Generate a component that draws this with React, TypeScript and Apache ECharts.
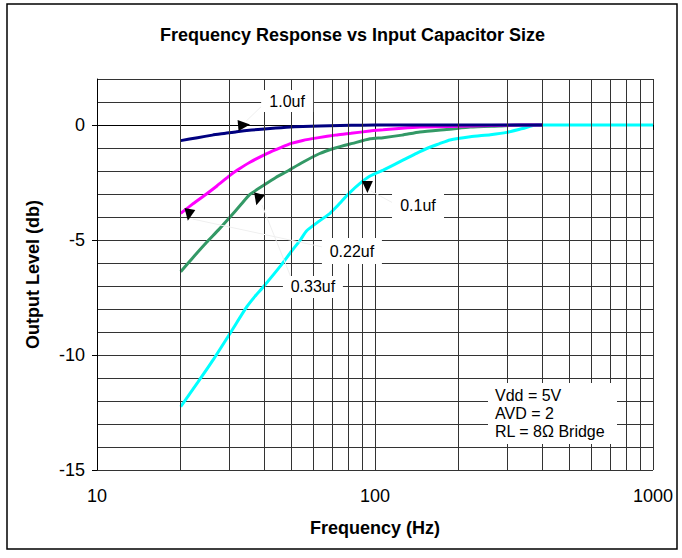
import React, { useEffect, useRef } from 'react';
import * as echarts from 'echarts';

const FONT = '"Liberation Sans", Arial, sans-serif';

const TITLE = 'Frequency Response vs Input Capacitor Size';
const X_NAME = 'Frequency (Hz)';
const Y_NAME = 'Output Level (db)';

const Y_LABELS = [-15, -10, -5, 0];
const FREQ_MINOR = [20, 30, 40, 50, 60, 70, 80, 90, 200, 300, 400, 500, 600, 700, 800, 900];

// [frequency Hz, output dB]
const NAVY_CURVE: [number, number][] = [
  [20, -0.68], [23, -0.55], [26, -0.44], [29, -0.36], [31.8, -0.29], [36, -0.22], [40, -0.17],
  [44, -0.13], [48, -0.1], [55, -0.06], [63, -0.04], [75, -0.02], [90, -0.01], [110, 0],
  [150, 0], [200, 0], [300, 0], [400, 0],
];
const MAGENTA_CURVE: [number, number][] = [
  [20, -3.84], [22, -3.45], [24, -3.12], [27, -2.65], [30, -2.2], [32, -1.96], [35.5, -1.62],
  [41, -1.23], [46, -0.97], [50, -0.8], [55, -0.67], [62, -0.56], [73, -0.43], [82, -0.36],
  [96, -0.26], [107, -0.21], [125, -0.14], [145, -0.09], [186, -0.06], [260, -0.02], [335, 0], [400, 0],
];
const GREEN_CURVE: [number, number][] = [
  [20, -6.38], [22, -5.8], [24.8, -5.1], [27.3, -4.57], [30, -4.02], [33, -3.45], [35.5, -3.02],
  [40, -2.6], [44, -2.28], [48, -2.03], [55, -1.62], [63, -1.25], [72, -1.0], [83, -0.8],
  [96, -0.6], [107, -0.55], [125, -0.44], [145, -0.3], [186, -0.18], [220, -0.09], [280, -0.04],
  [335, 0], [400, 0],
];
const CYAN_CURVE: [number, number][] = [
  [20, -12.25], [23, -11.2], [26.2, -10.2], [30.1, -9.06], [34.6, -7.9], [37, -7.45], [39.7, -7.03],
  [45.5, -6.16], [50, -5.5], [54, -4.98], [56.8, -4.6], [63, -4.18], [68.9, -3.84], [72.8, -3.55],
  [76, -3.3], [81, -2.95], [88.3, -2.54], [96, -2.22], [107, -1.96], [126.5, -1.52], [141, -1.23],
  [155, -1.0], [170, -0.82], [186, -0.65], [220, -0.51], [260, -0.42], [298, -0.32], [340, -0.15],
  [382, 0], [500, 0], [1000, 0],
];

// callout labels: [text, frequency, dB]
const CALLOUT_TEXT = ['1.0uf', '0.1uf', '0.22uf', '0.33uf'];
const CALLOUT_POS: [number, number][] = [[48.3, 1.04], [142.8, -3.52], [82.6, -5.48], [59.8, -7.04]];
const CALLOUT_BOX: [number, number][] = [[52, 22], [52, 26], [60, 26], [60, 22]];

// arrow heads: [frequency, dB], rotation
const ARROW_POS: [number, number][] = [[33.8, 0.0], [21.4, -3.91], [37.9, -3.24], [93.9, -2.7]];
const ARROW_ROT = [-85, 170, 165, 180];

// faint leader lines
const LEADERS: [[number, number], [number, number]][] = [
  [[39.2, 0.83], [34.4, 0.17]],
  [[22.1, -4.09], [64.5, -5.3]],
  [[39.2, -3.48], [50.3, -6.74]],
  [[96.7, -2.87], [116.1, -3.39]],
];

const NOTE = 'Vdd = 5V\nAVD = 2\nRL = 8Ω Bridge';

function curve(name: string, data: [number, number][], color: string) {
  return {
    name,
    type: 'line',
    data,
    yAxisIndex: 0,
    showSymbol: false,
    symbol: 'none',
    smooth: 0.2,
    lineStyle: { color, width: 3 },
    itemStyle: { color },
    z: 3,
  };
}

export default function App() {
  const ref = useRef<HTMLDivElement>(null);
  useEffect(() => {
    const chart = echarts.init(ref.current!, null, { renderer: 'svg' });
    const option: any = {
      animation: false,
      backgroundColor: '#fff',
      title: {
        text: TITLE,
        left: 155,
        top: 21,
        textStyle: { fontFamily: FONT, fontSize: 18, fontWeight: 'bold', color: '#000' },
      },
      grid: { left: 97, right: 29, top: 79, bottom: 88, containLabel: false, outerBoundsMode: 'none' },
      xAxis: {
        type: 'log',
        logBase: 10,
        min: 10,
        max: 1000,
        name: X_NAME,
        nameLocation: 'middle',
        nameGap: 49,
        nameTextStyle: { fontFamily: FONT, fontSize: 18, fontWeight: 'bold', color: '#000' },
        axisLine: { show: true, lineStyle: { color: '#000', width: 1 } },
        axisTick: { show: true, length: 5, lineStyle: { color: '#000' } },
        axisLabel: {
          fontFamily: FONT,
          fontSize: 18,
          color: '#000',
          margin: 17,
          formatter: (v: number) => String(Math.round(v)),
        },
        splitLine: { show: true, lineStyle: { color: '#333', width: 1 } },
        minorTick: { show: false },
        minorSplitLine: { show: false },
      },
      yAxis: [
        {
          type: 'value',
          min: -15,
          max: 2,
          interval: 1,
          name: Y_NAME,
          nameLocation: 'middle',
          nameGap: 55,
          nameRotate: 90,
          nameTextStyle: { fontFamily: FONT, fontSize: 18, fontWeight: 'bold', color: '#000' },
          axisLine: { show: true, lineStyle: { color: '#000', width: 1 } },
          axisTick: { show: true, length: 5, customValues: Y_LABELS, lineStyle: { color: '#000' } },
          axisLabel: { fontFamily: FONT, fontSize: 18, color: '#000', margin: 12, customValues: Y_LABELS },
          splitLine: { show: false },
          z: 2,
        },
        {
          type: 'value',
          min: -15,
          max: 2,
          interval: 1,
          position: 'left',
          axisLine: { show: false },
          axisTick: { show: false },
          axisLabel: { show: false },
          splitLine: { show: true, lineStyle: { color: '#333', width: 1 } },
          z: 0,
        },
      ],
      series: [
        {
          name: 'minorGrid',
          type: 'line',
          data: [[10, -15]],
          symbol: 'none',
          showSymbol: false,
          lineStyle: { width: 0 },
          silent: true,
          z: 1,
          markLine: {
            silent: true,
            symbol: ['none', 'none'],
            label: { show: false },
            lineStyle: { color: '#333', width: 1, type: 'solid' },
            data: FREQ_MINOR.map((f) => ({ xAxis: f })),
          },
        },
        curve('0.1uf', CYAN_CURVE, '#00ffff'),
        curve('0.33uf', GREEN_CURVE, '#339966'),
        curve('0.22uf', MAGENTA_CURVE, '#ff00ff'),
        curve('1.0uf', NAVY_CURVE, '#000080'),
        {
          name: 'callouts',
          type: 'line',
          data: [[1000, 0]],
          symbol: 'none',
          showSymbol: false,
          lineStyle: { width: 0 },
          silent: true,
          z: 5,
          markLine: {
            silent: true,
            symbol: ['none', 'none'],
            label: { show: false },
            lineStyle: { color: '#efefef', width: 1, type: 'solid' },
            data: LEADERS.map(([a, b]) => [{ coord: a }, { coord: b }]),
          },
          markPoint: {
            silent: true,
            data: [
              ...CALLOUT_TEXT.map((t, i) => ({
                name: t,
                coord: CALLOUT_POS[i],
                symbol: 'rect',
                symbolSize: CALLOUT_BOX[i],
                itemStyle: { color: '#fff' },
                label: {
                  show: true,
                  position: 'inside',
                  formatter: t,
                  color: '#000',
                  fontFamily: FONT,
                  fontSize: 16,
                },
              })),
              ...ARROW_POS.map((p, i) => ({
                name: 'arrow' + i,
                coord: p,
                symbol: 'triangle',
                symbolSize: [11, 12],
                symbolRotate: ARROW_ROT[i],
                itemStyle: { color: '#000' },
                label: { show: false },
              })),
            ],
          },
        },
      ],
      graphic: [
        {
          type: 'rect',
          z: 100,
          silent: true,
          shape: { x: 7, y: 4, width: 670, height: 545 },
          style: { fill: 'none', stroke: '#000', lineWidth: 1.5 },
        },
        {
          type: 'rect',
          z: 100,
          silent: true,
          shape: { x: 488, y: 383, width: 129, height: 61 },
          style: { fill: '#fff' },
        },
        {
          type: 'text',
          z: 101,
          silent: true,
          x: 495,
          y: 386,
          style: {
            text: NOTE,
            fontFamily: FONT,
            fontSize: 16,
            lineHeight: 18,
            fill: '#000',
            verticalAlign: 'top',
          },
        },
      ],
    };
    chart.setOption(option);
    return () => chart.dispose();
  }, []);
  return (
    <div
      ref={ref}
      style={{ position: 'fixed', left: 0, top: 0, width: 682, height: 558, background: '#fff' }}
    />
  );
}
